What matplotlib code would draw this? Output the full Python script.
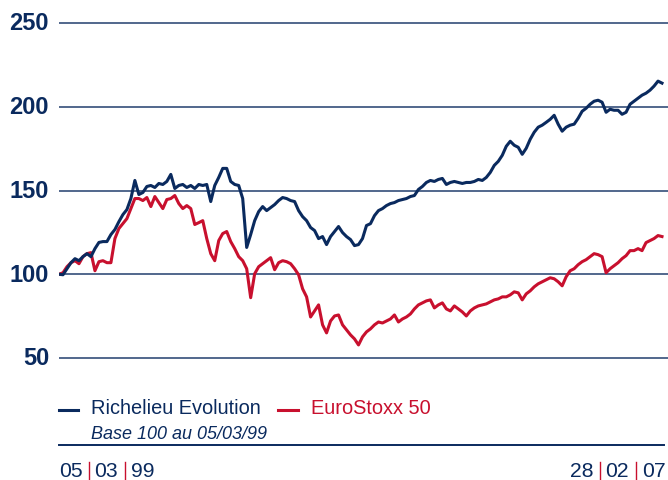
import numpy as np
import pandas as pd
import matplotlib
matplotlib.use("Agg")
import matplotlib.pyplot as plt
from matplotlib.lines import Line2D

plt.rcParams['font.family'] = ['Liberation Sans', 'DejaVu Sans']

NAVY = '#0a2a5e'
RED = '#c8102e'

start_date = "1999-03-05"
end_date = "2007-02-28"
y_ticks = [50, 100, 150, 200, 250]
series_names = ["Richelieu Evolution", "EuroStoxx 50"]
subtitle = "Base 100 au 05/03/99"
start_label = ["05", "03", "99"]
end_label = ["28", "02", "07"]

richelieu = [100.0, 99.7, 103.3, 106.9, 109.3, 108.1, 110.5, 112.3, 110.5, 115.3,
             119.0, 119.5, 119.5, 123.7, 126.7, 131.4, 135.6, 138.6, 145.2, 156.0,
             147.6, 148.8, 152.4, 153.0, 151.8, 154.2, 153.6, 155.4, 159.6, 151.2,
             153.0, 153.6, 151.8, 153.0, 151.2, 153.6, 153.0, 153.6, 143.4, 153.0,
             157.8, 163.2, 163.2, 155.4, 153.6, 153.0, 145.2, 116.0, 123.7, 132.0,
             137.4, 140.4, 138.0, 139.8, 141.6, 144.0, 145.8, 145.2, 144.0, 143.4,
             138.0, 134.4, 132.0, 127.9, 126.1, 121.3, 122.5, 117.7, 122.5, 125.5,
             128.5, 124.9, 122.5, 120.7, 117.1, 117.7, 121.3, 129.1, 130.2, 135.0,
             138.0, 139.2, 141.0, 142.2, 142.8, 144.0, 144.6, 145.2, 146.4, 147.0,
             150.6, 152.4, 154.8, 156.0, 155.4, 156.6, 157.2, 153.6, 154.8, 155.4,
             154.8, 154.2, 154.8, 154.8, 155.4, 156.6, 156.0, 157.8, 160.8, 165.0,
             167.4, 171.0, 176.4, 179.4, 177.0, 175.8, 171.6, 175.2, 180.6, 184.8,
             187.8, 189.0, 190.7, 192.5, 194.9, 189.6, 185.4, 187.8, 189.0, 189.6,
             193.1, 197.3, 199.1, 201.5, 203.3, 203.9, 202.7, 196.7, 198.5, 197.9,
             197.9, 195.5, 196.7, 201.5, 203.3, 205.1, 206.9, 208.1, 209.9, 212.3,
             215.3, 214.1]

eurostoxx = [100.0, 100.9, 104.5, 106.9, 108.1, 106.3, 110.5, 112.3, 112.9, 102.1,
             107.5, 108.1, 106.9, 106.9, 121.3, 127.3, 130.2, 133.2, 139.2, 145.2,
             145.2, 144.0, 145.8, 140.4, 146.4, 142.8, 139.2, 144.6, 145.2, 147.0,
             142.2, 139.2, 141.0, 139.2, 129.7, 130.8, 132.0, 121.3, 112.3, 108.1,
             120.1, 124.3, 125.5, 119.5, 115.3, 110.5, 108.1, 103.3, 86.0, 100.3,
             104.5, 106.3, 108.1, 109.9, 102.7, 106.9, 108.1, 107.5, 106.3, 103.3,
             99.7, 91.3, 86.5, 74.5, 78.1, 81.7, 69.8, 65.0, 72.1, 75.1,
             75.7, 69.8, 66.8, 63.8, 61.4, 57.8, 62.6, 65.6, 67.4, 69.8,
             71.5, 70.9, 72.1, 73.3, 75.7, 71.5, 73.3, 74.5, 76.3, 79.3,
             81.7, 82.9, 84.1, 84.7, 79.9, 81.7, 82.9, 79.3, 78.1, 81.1,
             79.3, 77.5, 75.1, 78.1, 79.9, 81.1, 81.7, 82.3, 83.5, 84.7,
             85.3, 86.5, 86.5, 87.7, 89.5, 88.9, 84.7, 88.3, 90.1, 92.5,
             94.3, 95.5, 96.7, 97.9, 97.3, 95.5, 93.1, 98.5, 102.1, 103.3,
             105.7, 107.5, 108.7, 110.5, 112.3, 111.7, 110.5, 100.9, 103.3, 105.1,
             106.9, 109.3, 111.1, 114.1, 114.1, 115.3, 114.1, 118.9, 120.1, 121.3,
             123.1, 122.5]

t0 = pd.Timestamp(start_date)
t1 = pd.Timestamp(end_date)
dates = pd.to_datetime(np.linspace(t0.value, t1.value, len(richelieu)))

W, H = 668, 481
fig = plt.figure(figsize=(W / 100, H / 100), dpi=100)

# axes: y 40..260 -> pixel rows 375.75 .. 7.25
ax = fig.add_axes([59 / W, 1 - 375.75 / H, 1 - 59 / W, (375.75 - 7.25) / H])
ax.set_ylim(40, 260)
span = t1 - t0
ax.set_xlim(t0, t1 + span * (6 / 603))

for v in y_ticks:
    ax.axhline(v, color=NAVY, lw=1.1, alpha=0.9, zorder=1)

ax.plot(dates, eurostoxx, color=RED, lw=2.2, zorder=3, solid_joinstyle='round')
ax.plot(dates, richelieu, color=NAVY, lw=2.2, zorder=4, solid_joinstyle='round')

for s in ax.spines.values():
    s.set_visible(False)
ax.set_xticks([])
ax.set_yticks([])
ax.patch.set_alpha(0)

for v in y_ticks:
    ax.annotate(str(v), xy=(0, v), xycoords=('axes fraction', 'data'),
                xytext=(-10 * 0.72, 0), textcoords='offset points',
                ha='right', va='center', fontsize=17, fontweight='bold',
                color=NAVY)

# legend
fy = lambda py: 1 - py / H
fx = lambda px: px / W
fig.add_artist(Line2D([fx(59), fx(78)], [fy(411), fy(411)], color=NAVY, lw=2.2))
fig.text(fx(91), fy(414), series_names[0], color=NAVY, fontsize=14.4,
         ha='left', va='baseline')
fig.add_artist(Line2D([fx(278), fx(298)], [fy(411), fy(411)], color=RED, lw=2.2))
fig.text(fx(311), fy(414), series_names[1], color=RED, fontsize=14.4,
         ha='left', va='baseline')
fig.text(fx(91), fy(439), subtitle, color=NAVY, fontsize=13.0, style='italic',
         ha='left', va='baseline')

fig.add_artist(Line2D([fx(59), fx(664)], [fy(446), fy(446)], color=NAVY, lw=1.4))

def date_label(parts, x0):
    xs = [x0, x0 + 35, x0 + 72]
    for i, p in enumerate(parts):
        fig.text(fx(xs[i]), fy(477), p, color=NAVY, fontsize=15.2,
                 ha='left', va='baseline')
    for bx in (x0 + 30, x0 + 66):
        fig.add_artist(Line2D([fx(bx), fx(bx)], [fy(463), fy(481)], color=RED, lw=1.0))

date_label(start_label, 59)
date_label(end_label, 570)

fig.savefig("out.png", dpi=100)
